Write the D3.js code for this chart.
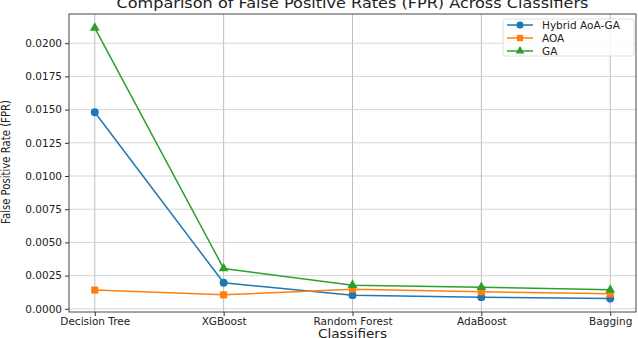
<!DOCTYPE html>
<html>
<head>
<meta charset="utf-8">
<script src="https://cdn.jsdelivr.net/npm/d3@7"></script>
<style>
  body { margin: 0; background: #fff; }
  svg text { font-family: "DejaVu Sans", sans-serif; fill: #222; }
</style>
</head>
<body>
<svg width="638" height="338"></svg>
<script>
// data
var classifiers = ["Decision Tree", "XGBoost", "Random Forest", "AdaBoost", "Bagging"];
var hybridFPR = [0.01480, 0.00196, 0.00103, 0.00088, 0.00078];
var aoaFPR    = [0.00141, 0.00105, 0.00148, 0.00128, 0.00113];
var gaFPR     = [0.02116, 0.00304, 0.00178, 0.00163, 0.00143];
var yTicks = [0, 0.0025, 0.005, 0.0075, 0.01, 0.0125, 0.015, 0.0175, 0.02];

var series = [
    { name: "Hybrid AoA-GA", values: hybridFPR, color: "#1f77b4", marker: d3.symbolCircle, size: 50 },
    { name: "AOA",           values: aoaFPR,    color: "#ff7f0e", marker: d3.symbolSquare, size: 50 },
    { name: "GA",            values: gaFPR,     color: "#2ca02c", marker: d3.symbolTriangle, size: 42 }
];

var L = 69, R = 636, T = 14, B = 312;
var svg = d3.select("svg");

// x: category index with matplotlib-like 5% margins
var scX = d3.scaleLinear().domain([-0.2, 4.2]).range([L, R]);
var scY = d3.scaleLinear().domain([-0.00024, 0.0222]).range([B, T]);

// grid
var grid = svg.append("g");
grid.selectAll("line.gx").data(classifiers).enter().append("line")
    .attr("x1", (d, i) => scX(i)).attr("x2", (d, i) => scX(i))
    .attr("y1", T).attr("y2", B)
    .attr("stroke", "#b8b8b8").attr("stroke-width", 0.9);
grid.selectAll("line.gy").data(yTicks).enter().append("line")
    .attr("x1", L).attr("x2", R)
    .attr("y1", d => scY(d)).attr("y2", d => scY(d))
    .attr("stroke", "#d0d0d0").attr("stroke-width", 0.9);

// axes
var xAxis = d3.axisBottom(scX).tickValues(d3.range(classifiers.length))
    .tickFormat(i => classifiers[i]).tickSize(4).tickPadding(1.5);
var gx = svg.append("g").attr("transform", "translate(0," + B + ")").call(xAxis);
gx.select(".domain").remove();
gx.selectAll("text").attr("font-size", 10.5).style("font-family", "DejaVu Sans");
gx.selectAll("line").attr("stroke", "#333");

var yAxis = d3.axisLeft(scY).tickValues(yTicks)
    .tickFormat(d3.format(".4f")).tickSize(4).tickPadding(3);
var gy = svg.append("g").attr("transform", "translate(" + L + ",0)").call(yAxis);
gy.select(".domain").remove();
gy.selectAll("text").attr("font-size", 10.5).style("font-family", "DejaVu Sans");
gy.selectAll("line").attr("stroke", "#333");

// frame
svg.append("rect").attr("x", L).attr("y", T).attr("width", R - L).attr("height", B - T)
    .attr("fill", "none").attr("stroke", "#333").attr("stroke-width", 0.9);

// lines and markers
var lineMaker = d3.line().x((d, i) => scX(i)).y(d => scY(d));
series.forEach(function(s) {
    var g = svg.append("g");
    g.append("path").attr("d", lineMaker(s.values))
        .attr("fill", "none").attr("stroke", s.color).attr("stroke-width", 1.5);
    g.selectAll("path.m").data(s.values).enter().append("path")
        .attr("d", d3.symbol().type(s.marker).size(s.size))
        .attr("transform", (d, i) => "translate(" + scX(i) + "," + scY(d) + ")")
        .attr("fill", s.color);
});

// title and labels
svg.append("text").attr("x", (L + R) / 2).attr("y", 8)
    .attr("text-anchor", "middle").attr("font-size", 14)
    .attr("textLength", 472).attr("lengthAdjust", "spacingAndGlyphs")
    .text("Comparison of False Positive Rates (FPR) Across Classifiers");
svg.append("text").attr("x", (L + R) / 2).attr("y", 337.5)
    .attr("text-anchor", "middle").attr("font-size", 12.5)
    .attr("textLength", 69).attr("lengthAdjust", "spacingAndGlyphs")
    .text("Classifiers");
svg.append("text").attr("transform", "translate(10,162) rotate(-90)")
    .attr("text-anchor", "middle").attr("font-size", 12.5)
    .attr("textLength", 124).attr("lengthAdjust", "spacingAndGlyphs")
    .text("False Positive Rate (FPR)");

// legend
var lg = svg.append("g").attr("transform", "translate(503,19)");
lg.append("rect").attr("width", 131).attr("height", 37).attr("rx", 2)
    .attr("fill", "#fff").attr("fill-opacity", 0.85)
    .attr("stroke", "#d5d5d5").attr("stroke-width", 0.8);
series.forEach(function(s, i) {
    var row = lg.append("g").attr("transform", "translate(0," + (6 + i * 13) + ")");
    row.append("line").attr("x1", 4).attr("x2", 30)
        .attr("stroke", s.color).attr("stroke-width", 1.5);
    row.append("path").attr("d", d3.symbol().type(s.marker).size(s.size * 0.8))
        .attr("transform", "translate(17,0)").attr("fill", s.color);
    row.append("text").attr("x", 39).attr("y", 4).attr("font-size", 10.5).text(s.name);
});
</script>
</body>
</html>
